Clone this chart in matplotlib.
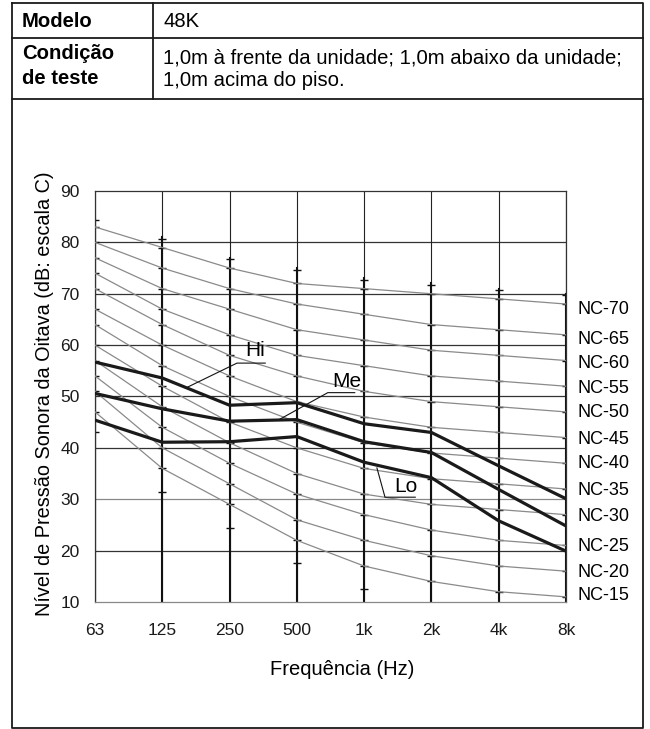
import matplotlib
matplotlib.use("Agg")
import matplotlib.pyplot as plt

plt.rcParams['font.family'] = ['Liberation Sans', 'DejaVu Sans']

# octave bands
freq_labels = ['63', '125', '250', '500', '1k', '2k', '4k', '8k']

# NC reference curves (dB per octave band)
nc_levels = [15, 20, 25, 30, 35, 40, 45, 50, 55, 60, 65, 70]
nc_curves = [
    [47, 36, 29, 22, 17, 14, 12, 11],
    [51, 40, 33, 26, 22, 19, 17, 16],
    [54, 44, 37, 31, 27, 24, 22, 21],
    [57, 48, 41, 35, 31, 29, 28, 27],
    [60, 52, 45, 40, 36, 34, 33, 32],
    [64, 56, 50, 45, 41, 39, 38, 37],
    [67, 60, 54, 49, 46, 44, 43, 42],
    [71, 64, 58, 54, 51, 49, 48, 47],
    [74, 67, 62, 58, 56, 54, 53, 52],
    [77, 71, 67, 63, 61, 59, 58, 57],
    [80, 75, 71, 68, 66, 64, 63, 62],
    [83, 79, 75, 72, 71, 70, 69, 68],
]
# extra tick marks below the lowest curve
low_marks = [43, 31.5, 24.5, 17.5, 12.5, None, None, None]
# top of the heavy band lines
band_top = [84.6, 81, 77, 75, 73, 72, 71, 70]
# where the NC names sit on the right side
nc_label_y = [11.2, 15.8, 20.8, 26.7, 31.7, 36.9, 41.6, 46.8, 51.6, 56.5, 61.1, 66.9]

# measured fan speeds
hi = [56.7, 53.6, 48.3, 48.8, 44.7, 43.0, 36.5, 30.1]
me = [50.6, 47.6, 45.2, 45.5, 41.2, 39.1, 31.9, 24.8]
lo = [45.4, 41.1, 41.2, 42.2, 37.2, 34.2, 25.8, 19.9]

W, H = 650, 729
fig = plt.figure(figsize=(W / 100, H / 100), dpi=100)

# frame and header table, in pixel units
bg = fig.add_axes([0, 0, 1, 1])
bg.set_xlim(0, W)
bg.set_ylim(H, 0)
bg.axis('off')
k = dict(color='#1a1a1a', lw=1.3)
bg.plot([12, 643, 643, 12, 12], [3, 3, 728, 728, 3], **k)
bg.plot([12, 643], [38, 38], **k)
bg.plot([12, 643], [99, 99], **k)
bg.plot([153, 153], [3, 99], **k)
fs = 14.6
bg.text(22, 21, 'Modelo', fontsize=fs, fontweight='bold', va='center')
bg.text(163, 21, '48K', fontsize=fs, va='center')
bg.text(22, 53, 'Condição', fontsize=fs, fontweight='bold', va='center')
bg.text(22, 78, 'de teste', fontsize=fs, fontweight='bold', va='center')
bg.text(163, 58, '1,0m à frente da unidade; 1,0m abaixo da unidade;', fontsize=fs, va='center')
bg.text(163, 80, '1,0m acima do piso.', fontsize=fs, va='center')

ax = fig.add_axes([95 / W, 1 - 602 / H, 471 / W, 411 / H])
ax.set_facecolor('none')
x = list(range(len(freq_labels)))

for yv in range(20, 90, 10):
    ax.axhline(yv, color='#333333' if yv != 30 else '#888888', lw=0.9, zorder=1)

for i in x:
    ax.plot([i, i], [10, 90], color='#222222', lw=0.8, zorder=1)
    ax.plot([i, i], [10, band_top[i]], color='#111111', lw=1.5, zorder=2)
    marks = [c[i] for c in nc_curves] + [band_top[i] - 0.3]
    if low_marks[i] is not None:
        marks.append(low_marks[i])
    ax.plot([i] * len(marks), marks, ls='', marker='_', ms=6, mew=1.0,
            color='#111111', zorder=2)

for lvl, curve in zip(nc_levels, nc_curves):
    ax.plot(x, curve, color='#8a8a8a', lw=0.9, zorder=3)

for series in (hi, me, lo):
    ax.plot(x, series, color='#1a1a1a', lw=2.3, solid_joinstyle='miter', zorder=4)

# leaders for the speed names
lk = dict(color='#111111', lw=0.8, zorder=5)
ax.plot([1.38, 2.11, 2.53], [51.85, 56.5, 56.5], **lk)
ax.text(2.38, 59.0, 'Hi', fontsize=15, ha='center', va='center', zorder=6)
ax.plot([2.75, 3.46, 3.86], [45.6, 50.75, 50.75], **lk)
ax.text(3.745, 53.0, 'Me', fontsize=15, ha='center', va='center', zorder=6)
ax.plot([4.19, 4.31, 4.76], [36.1, 30.4, 30.4], **lk)
ax.text(4.62, 32.4, 'Lo', fontsize=15, ha='center', va='center', zorder=6)

for lvl, yl in zip(nc_levels, nc_label_y):
    ax.text(7.17, yl, 'NC-%d' % lvl, fontsize=13, va='center', ha='left')

ax.set_xlim(0, 7)
ax.set_ylim(10, 90)
ax.set_xticks(x)
ax.set_xticklabels(freq_labels)
ax.set_yticks(range(10, 100, 10))
ax.tick_params(length=0, labelsize=12.5, colors='#1a1a1a')
ax.tick_params(axis='x', pad=15)
ax.tick_params(axis='y', pad=11)
for s in ax.spines.values():
    s.set_linewidth(0.9)
    s.set_color('#333333')
ax.spines['bottom'].set_color('#888888')
ax.set_xlabel('Frequência (Hz)', fontsize=14.5)
ax.xaxis.set_label_coords(0.525, -0.14)
ax.set_ylabel('Nível de Pressão Sonora da Oitava (dB: escala C)', fontsize=14.3)
ax.yaxis.set_label_coords(-0.088, 0.508)

fig.savefig('out.png', dpi=100)
